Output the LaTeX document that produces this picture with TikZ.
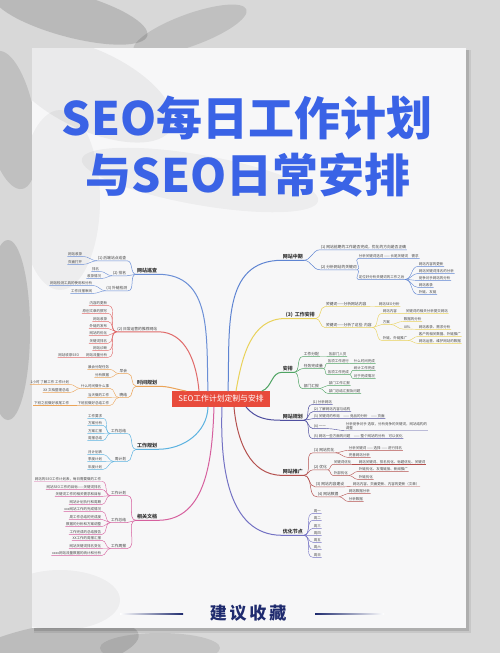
\documentclass[tikz,border=0pt]{standalone}
\usepackage{fontspec}
\newfontfamily\cjk{Noto Sans CJK SC}
\definecolor{wall}{HTML}{D8D8D8}
\definecolor{paper}{HTML}{F7F7F8}
\definecolor{ttl}{HTML}{3A63E6}
\definecolor{navy}{HTML}{1F2B6E}
\definecolor{cred}{HTML}{E84B3C}
\definecolor{cA}{HTML}{6B8FD6}
\definecolor{cB}{HTML}{E06A6A}
\definecolor{cC}{HTML}{EBA458}
\definecolor{cD}{HTML}{5BB2E0}
\definecolor{cE}{HTML}{D6609E}
\definecolor{cF}{HTML}{5E84D2}
\definecolor{cG}{HTML}{E9D25A}
\definecolor{cH}{HTML}{4FA463}
\definecolor{cI}{HTML}{4F4FA0}
\definecolor{cJ}{HTML}{B4504E}
\definecolor{cK}{HTML}{7472C4}
\newcommand\llink[4][0.4pt]{\draw[#2,line width=#1] (#3.south west) to[out=180,in=0] (#4.south east) -- (#4.south west);}
\newcommand\rlink[4][0.4pt]{\draw[#2,line width=#1] (#3.south east) to[out=0,in=180] (#4.south west) -- (#4.south east);}
\tikzset{
  lf/.style={font=\cjk\fontsize{3.5}{4.2}\selectfont, text=black!72, inner sep=0.6pt},
  sub/.style={font=\cjk\fontsize{3.8}{4.4}\selectfont, text=black!75, inner sep=0.6pt},
  br/.style={font=\cjk\bfseries\fontsize{5}{6}\selectfont, text=black!80, inner sep=0.7pt},
  L/.style={anchor=east}, R/.style={anchor=west},
  mainline/.style={line width=1pt, line cap=round}
}
\begin{document}
\begin{tikzpicture}[x=1pt,y=1pt]
\useasboundingbox (0,0) rectangle (500,-653);
% wall
\fill[wall] (0,0) rectangle (500,-653);
\begin{scope}
\clip (0,0) rectangle (500,-653);
\fill[black,opacity=0.14] (70,-15) ellipse [x radius=80, y radius=22, rotate=-15];
\fill[black,opacity=0.11] (190,-30) ellipse [x radius=60, y radius=16, rotate=20];
\fill[black,opacity=0.11] (10,-120) ellipse [x radius=25, y radius=70, rotate=10];
\fill[black,opacity=0.13] (8,-330) ellipse [x radius=22, y radius=90];
\fill[black,opacity=0.13] (50,-650) ellipse [x radius=90, y radius=25, rotate=10];
\fill[black,opacity=0.09] (160,-648) ellipse [x radius=60, y radius=15];
\end{scope}
% paper shadow
\fill[black,opacity=0.08] (34,-50) rectangle (471,-633);
\fill[black,opacity=0.12] (34,-50) rectangle (469,-631);
\fill[paper] (32,-48) rectangle (466,-628);
\begin{scope}
\clip (32,-48) rectangle (466,-628);
\fill[black,opacity=0.05] (90,-90) ellipse [x radius=90, y radius=40, rotate=-25];
\fill[black,opacity=0.04] (60,-200) ellipse [x radius=40, y radius=90];
\fill[black,opacity=0.04] (200,-180) ellipse [x radius=120, y radius=25, rotate=-10];
\fill[black,opacity=0.04] (60,-600) ellipse [x radius=60, y radius=30];
\end{scope}
% title
\node[text=ttl, font=\cjk\bfseries\fontsize{46}{46}\selectfont] (t1) at (247,-118) {SEO每日工作计划};
\node[text=ttl, font=\cjk\bfseries\fontsize{46}{46}\selectfont] (t2) at (248,-175) {与SEO日常安排};
% footer
\node[text=navy, font=\cjk\bfseries\fontsize{17}{17}\selectfont] (ft) at (248,-613) {建\,议\,收\,藏};
\shade[left color=navy!0, right color=navy] (120,-613.4) rectangle (183,-614.4);
\shade[left color=navy, right color=navy!0] (315,-613.4) rectangle (384,-614.4);

% center
\node[fill=cred, text=white, font=\cjk\fontsize{7.8}{8}\selectfont, minimum width=98, minimum height=16, inner sep=1pt] (ctr) at (221,-399) {SEO工作计划定制与安排};
\coordinate (sA) at (208,-391);
\coordinate (sB) at (199,-391);
\coordinate (sC) at (186,-391);
\coordinate (sD) at (208,-407);
\coordinate (sE) at (214,-407);
\coordinate (sF) at (228,-391);
\coordinate (sG) at (236,-391);
\coordinate (sH) at (262,-391);
\coordinate (sI) at (246,-407);
\coordinate (sJ) at (234,-407);
\coordinate (sK) at (222,-407);

% ===== LEFT =====
% A
\node[br,L] (A) at (158,-271) {网站巡查};
\draw[cA,mainline] (sA) to[out=92,in=0,looseness=1.1] (A.south east) -- (A.south west);
\node[sub,L] (A1) at (127,-258) {(1) 后端站点巡查};
\node[sub,L] (A2) at (127,-273) {(2) 排名};
\node[sub,L] (A3) at (128,-288) {(3) 外链检测};
\llink[0.5pt]{cA}{A}{A1}\llink[0.5pt]{cA}{A}{A2}\llink[0.5pt]{cA}{A}{A3}
\node[lf,L] (A1a) at (83,-254) {网站收录};
\node[lf,L] (A1b) at (83,-262) {页面打开};
\node[lf,L] (A2a) at (100,-269) {排名};
\node[lf,L] (A2b) at (102,-276) {收录情况};
\node[lf,L] (A3a) at (93,-283) {网站检测工具的使用和分析};
\node[lf,L] (A3b) at (93,-291) {工作日报审阅};
\llink{cA}{A1}{A1a}\llink{cA}{A1}{A1b}\llink{cA}{A2}{A2a}\llink{cA}{A2}{A2b}\llink{cA}{A3}{A3a}\llink{cA}{A3}{A3b}
% B
\node[sub,L] (B) at (158,-329) {(2) 日常运营的推荐网站};
\draw[cB,mainline] (sB) to[out=95,in=0] (B.south east) -- (B.south west);
\foreach \n/\y/\t in {1/303/内容的更新,2/311/原创文章的撰写,3/319/网站收录,4/326/外链的发布,5/333/网站的优化,6/341/关键词排名,7/348/网站诊断,8/355/网站流量分析}{
  \node[lf,L] (B\n) at (108,-\y) {\t};
  \llink{cB}{B}{B\n}
}
\node[lf,L] (B8a) at (80,-355) {网站收录SEO};
\llink{cB}{B8}{B8a}
% C
\node[br,L] (C) at (158,-383) {时间规划};
\draw[cC,mainline] (sC) to[out=170,in=0] (C.south east) -- (C.south west);
\node[sub,L] (C1) at (128,-371) {早会};
\node[sub,L] (C2) at (128,-395) {晚结};
\llink[0.5pt]{cC}{C}{C1}\llink[0.5pt]{cC}{C}{C2}
\node[lf,L] (C1a) at (110,-367) {晨会分配任务};
\node[lf,L] (C1b) at (110,-375) {分析数据};
\llink{cC}{C1}{C1a}\llink{cC}{C1}{C1b}
\node[lf,L] (C2a) at (110,-386) {什么时间做什么事};
\node[lf,L] (C2b) at (110,-395) {当天做的工作};
\node[lf,L] (C2c) at (110,-403) {下班前做好总结工作};
\llink{cC}{C2}{C2a}\llink{cC}{C2}{C2b}\llink{cC}{C2}{C2c}
\node[lf,L] (C2a1) at (70,-382) {1小时 了解工作 工作计划};
\node[lf,L] (C2a2) at (70,-390) {XX 文档整理总结};
\llink{cC}{C2a}{C2a1}\llink{cC}{C2a}{C2a2}
\node[lf,L] (C2c1) at (70,-403) {下班之前做好收尾工作};
\llink{cC}{C2c}{C2c1}
% D
\node[br,L] (D) at (158,-446) {工作规划};
\draw[cD,mainline] (sD) to[out=-92,in=0] (D.south east) -- (D.south west);
\node[sub,L] (D1) at (127,-431) {工作总结};
\node[sub,L] (D2) at (127,-459) {周计划};
\llink[0.5pt]{cD}{D}{D1}\llink[0.5pt]{cD}{D}{D2}
\foreach \n/\y/\t in {a/416/工作要求,b/423/方案分析,c/431/方案汇报,d/438/周报总结}{
  \node[lf,L] (D1\n) at (103,-\y) {\t};
  \llink{cD}{D1}{D1\n}
}
\foreach \n/\y/\t in {a/452/月计划表,b/459/季度计划,c/467/年度计划}{
  \node[lf,L] (D2\n) at (103,-\y) {\t};
  \llink{cD}{D2}{D2\n}
}
% E
\node[br,L] (E) at (158,-517) {相关文档};
\draw[cE,mainline] (sE) to[out=-92,in=0] (E.south east) -- (E.south west);
\node[sub,L] (E1) at (127,-493) {工作计划};
\node[sub,L] (E2) at (127,-520) {工作总结};
\node[sub,L] (E3) at (127,-546) {工作周报};
\llink[0.5pt]{cE}{E}{E1}\llink[0.5pt]{cE}{E}{E2}\llink[0.5pt]{cE}{E}{E3}
\foreach \n/\y/\t in {a/479/网站的SEO工作计划表，每日需要做的工作,b/487/网站SEO工作的目标——关键词排名,c/494/关键词工作的相关需求和目标,d/502/网站计划执行和周期}{
  \node[lf,L] (E1\n) at (102,-\y) {\t};
  \llink{cE}{E1}{E1\n}
}
\foreach \n/\y/\t in {a/509/xxx网站工作的完成情况,b/517/周工作总结的完成度,c/524/数据的分析和方案调整,d/532/工作完成的总结报告}{
  \node[lf,L] (E2\n) at (102,-\y) {\t};
  \llink{cE}{E2}{E2\n}
}
\foreach \n/\y/\t in {a/538/XX工作的周报汇报,b/546/网站关键词排名变化,c/553/xxxx网站流量数据的统计和分析}{
  \node[lf,L] (E3\n) at (102,-\y) {\t};
  \llink{cE}{E3}{E3\n}
}

% ===== RIGHT =====
% F
\node[br,R] (F) at (282,-257) {网站中期};
\draw[cF,mainline] (sF) to[out=88,in=180,looseness=1.1] (F.south west) -- (F.south east);
\node[sub,R] (F1) at (320,-247) {(1) 网站前期的工作是否完成，优化的方向是否正确};
\node[sub,R] (F2) at (320,-267) {(2) 分析网站的关键词};
\rlink[0.5pt]{cF}{F}{F1}\rlink[0.5pt]{cF}{F}{F2}
\node[lf,R] (F2a) at (358,-256) {分析关键词选词 —— 长尾关键词\quad 需求};
\node[lf,R] (F2b) at (358,-277) {定位好分析关键词的工作之后};
\rlink{cF}{F2}{F2a}\rlink{cF}{F2}{F2b}
\foreach \n/\y/\t in {1/264/网站内容的更新,2/271/网站关键词排名的分析,3/278/竞争对手网站的分析,4/285/网站收录,5/292/外链、友链}{
  \node[lf,R] (F2b\n) at (418,-\y) {\t};
  \rlink{cF}{F2b}{F2b\n}
}
% G
\node[br,R] (G) at (285,-315) {(3)\, 工作安排};
\draw[cG,mainline] (sG) to[out=80,in=180] (G.south west) -- (G.south east);
\node[sub,R] (G1) at (325,-304) {关键词——分析网站内容};
\node[sub,R] (G2) at (325,-325) {关键词——分析了这些\, 内容};
\rlink[0.5pt]{cG}{G}{G1}\rlink[0.5pt]{cG}{G}{G2}
\node[lf,R] (G1a) at (378,-304) {网站SEO分析};
\rlink{cG}{G1}{G1a}
\node[lf,R] (G2a) at (382,-311) {网站内容};
\node[lf,R] (G2b) at (382,-322) {方案};
\node[lf,R] (G2c) at (382,-338) {外链、外链推广};
\rlink{cG}{G2}{G2a}\rlink{cG}{G2}{G2b}\rlink{cG}{G2}{G2c}
\node[lf,R] (G2a1) at (405,-311) {关键词的相关分析提交网站};
\rlink{cG}{G2a}{G2a1}
\node[lf,R] (G2b1) at (403,-319) {数据的分析};
\node[lf,R] (G2b2) at (403,-327) {URL};
\rlink{cG}{G2b}{G2b1}\rlink{cG}{G2b}{G2b2}
\node[lf,R] (G2b2a) at (418,-327) {网站收录、需求分析};
\rlink{cG}{G2b2}{G2b2a}
\node[lf,R] (G2c1) at (418,-334) {客户的相关数据、外链推广};
\node[lf,R] (G2c2) at (418,-341) {网站运营、维护网站的数据};
\rlink{cG}{G2c}{G2c1}\rlink{cG}{G2c}{G2c2}
% H
\node[br,R] (H) at (282,-369) {安排};
\draw[cH,mainline] (sH) to[out=20,in=180] (H.south west) -- (H.south east);
\node[sub,R] (H1) at (303,-354) {工作分配};
\node[sub,R] (H2) at (303,-366) {任务完成量};
\node[sub,R] (H3) at (303,-386) {部门汇报};
\rlink[0.5pt]{cH}{H}{H1}\rlink[0.5pt]{cH}{H}{H2}\rlink[0.5pt]{cH}{H}{H3}
\node[lf,R] (H1a) at (328,-354) {各部门人员};
\rlink{cH}{H1}{H1a}
\node[lf,R] (H2a) at (327,-361) {各项工作进行};
\node[lf,R] (H2b) at (327,-372) {各项工作完成};
\rlink{cH}{H2}{H2a}\rlink{cH}{H2}{H2b}
\node[lf,R] (H2a1) at (353,-361) {什么时间完成};
\rlink{cH}{H2a}{H2a1}
\node[lf,R] (H2b1) at (353,-368) {统计工作完成};
\node[lf,R] (H2b2) at (353,-376) {对于完成情况};
\rlink{cH}{H2b}{H2b1}\rlink{cH}{H2b}{H2b2}
\node[lf,R] (H3a) at (328,-383) {部门工作汇报};
\node[lf,R] (H3b) at (328,-391) {部门总结汇报及问题};
\rlink{cH}{H3}{H3a}\rlink{cH}{H3}{H3b}
% I
\node[br,R] (I) at (282,-417) {网站规划};
\draw[cI,mainline] (sI) to[out=-50,in=180] (I.south west) -- (I.south east);
\node[lf,R] (I1) at (312,-402) {(1) 分析网站};
\node[lf,R] (I2) at (313,-409) {(2) 了解网站内容与结构};
\node[lf,R] (I3) at (313,-416) {(3) 关键词的布局\quad —— 竞品的分析\quad —— 页面};
\node[lf,R] (I4) at (313,-426) {(4) 一一};
\node[lf,R] (I5) at (313,-436) {(5) 网站一些方面的问题\quad —— 整个网站的分析\quad 可以优化};
\rlink[0.5pt]{cI}{I}{I1}\rlink[0.5pt]{cI}{I}{I2}\rlink[0.5pt]{cI}{I}{I3}\rlink[0.5pt]{cI}{I}{I4}\rlink[0.5pt]{cI}{I}{I5}
\node[lf,R,align=left] (I4a) at (345,-426) {分析竞争对手\ 选取，分析竞争的关键词，网站结构的\\调整};
\rlink{cI}{I4}{I4a}
% J
\node[br,R] (J) at (282,-472) {网站推广};
\draw[cJ,mainline] (sJ) to[out=-85,in=180] (J.south west) -- (J.south east);
\node[sub,R] (J1) at (313,-450) {(1) 网站优化};
\node[sub,R] (J2) at (313,-467) {(2) 优化};
\node[sub,R] (J3) at (315,-484) {(3) 网站内容建设};
\node[sub,R] (J4) at (317,-494) {(4) 网站数据};
\rlink[0.5pt]{cJ}{J}{J1}\rlink[0.5pt]{cJ}{J}{J2}\rlink[0.5pt]{cJ}{J}{J3}\rlink[0.5pt]{cJ}{J}{J4}
\node[lf,R] (J1a) at (348,-448) {分析关键词\ —— 选择\ —— 进行排名};
\node[lf,R] (J1b) at (348,-455) {完善网站分析};
\rlink{cJ}{J1}{J1a}\rlink{cJ}{J1}{J1b}
\node[lf,R] (J2a) at (333,-462) {关键词优化};
\node[lf,R] (J2b) at (333,-473) {外部优化};
\rlink{cJ}{J2}{J2a}\rlink{cJ}{J2}{J2b}
\node[lf,R] (J2a1) at (358,-462) {网站关键词、排名优化、标题优化、关键词};
\rlink{cJ}{J2a}{J2a1}
\node[lf,R] (J2b1) at (358,-469) {外链优化、友情链接、新闻推广};
\node[lf,R] (J2b2) at (358,-477) {外链优化};
\rlink{cJ}{J2b}{J2b1}\rlink{cJ}{J2b}{J2b2}
\node[lf,R] (J3a) at (352,-484) {网站内容、页面更新、内容的更新（文章）};
\rlink{cJ}{J3}{J3a}
\node[lf,R] (J4a) at (348,-491) {网站数据分析};
\node[lf,R] (J4b) at (348,-499) {分析数据};
\rlink{cJ}{J4}{J4a}\rlink{cJ}{J4}{J4b}
% K
\node[br,R] (K) at (282,-532) {优化节点};
\draw[cK,mainline] (sK) to[out=-92,in=180] (K.south west) -- (K.south east);
\foreach \n/\y/\t in {1/511/周一,2/518/周二,3/526/周三,4/533/周四,5/540/周五,6/547/周六,7/555/周日}{
  \node[lf,R] (K\n) at (313,-\y) {\t};
  \rlink{cK}{K}{K\n}
}
\end{tikzpicture}
\end{document}
